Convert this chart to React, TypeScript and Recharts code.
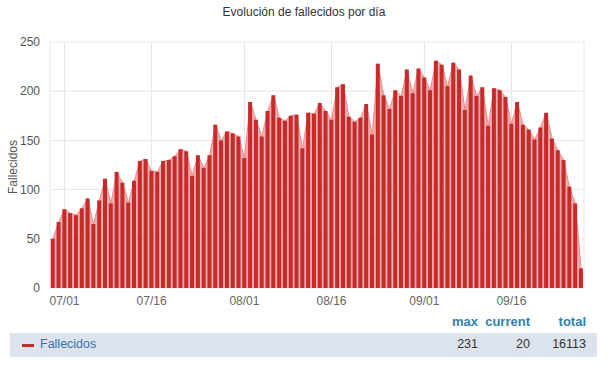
import { Area, Bar, CartesianGrid, ComposedChart, XAxis, YAxis } from 'recharts'

const DATES = [
  '06/29', '06/30',
  '07/01', '07/02', '07/03', '07/04', '07/05', '07/06', '07/07', '07/08', '07/09', '07/10',
  '07/11', '07/12', '07/13', '07/14', '07/15', '07/16', '07/17', '07/18', '07/19', '07/20',
  '07/21', '07/22', '07/23', '07/24', '07/25', '07/26', '07/27', '07/28', '07/29', '07/30', '07/31',
  '08/01', '08/02', '08/03', '08/04', '08/05', '08/06', '08/07', '08/08', '08/09', '08/10',
  '08/11', '08/12', '08/13', '08/14', '08/15', '08/16', '08/17', '08/18', '08/19', '08/20',
  '08/21', '08/22', '08/23', '08/24', '08/25', '08/26', '08/27', '08/28', '08/29', '08/30', '08/31',
  '09/01', '09/02', '09/03', '09/04', '09/05', '09/06', '09/07', '09/08', '09/09', '09/10',
  '09/11', '09/12', '09/13', '09/14', '09/15', '09/16', '09/17', '09/18', '09/19', '09/20',
  '09/21', '09/22', '09/23', '09/24', '09/25', '09/26', '09/27', '09/28',
]

const DEATHS = [
  50, 67,
  80, 76, 74, 81, 91, 65, 89, 111, 86, 118,
  107, 87, 109, 129, 131, 119, 118, 129, 130, 134,
  141, 139, 114, 135, 122, 135, 166, 150, 159, 157, 154,
  132, 189, 171, 154, 180, 196, 173, 170, 175, 176,
  142, 178, 177, 188, 180, 171, 204, 207, 174, 169,
  173, 187, 156, 228, 196, 182, 201, 195, 222, 198, 223,
  214, 201, 231, 227, 205, 229, 222, 181, 216, 195,
  204, 165, 203, 201, 194, 167, 189, 166, 161, 151,
  163, 178, 152, 140, 130, 103, 86, 20,
]

const X_TICKS = ['07/01', '07/16', '08/01', '08/16', '09/01', '09/16']
const Y_TICKS = [0, 50, 100, 150, 200, 250]

const SUMMARY = { max: 231, current: 20, total: 16113 }

const data = DATES.map((date, i) => ({ date, value: DEATHS[i] }))

const FONT = '"Liberation Sans", Arial, sans-serif'

export default function App() {
  return (
    <div style={{ position: 'absolute', left: 0, top: 0, width: 608, height: 366, background: '#fff', fontFamily: FONT }}>
      <div style={{ position: 'absolute', top: 5, left: 0, width: 608, textAlign: 'center', fontSize: 12, color: '#333' }}>
        Evolución de fallecidos por día
      </div>
      <div
        style={{
          position: 'absolute', left: 13, top: 167, transform: 'translate(-50%, -50%) rotate(-90deg)',
          fontSize: 12, color: '#555', whiteSpace: 'nowrap', lineHeight: '14px',
        }}
      >
        Fallecidos
      </div>
      <div style={{ position: 'absolute', left: 0, top: 0 }}>
        <ComposedChart
          width={608}
          height={310}
          data={data}
          margin={{ top: 42, right: 24, bottom: 2, left: 0 }}
          barCategoryGap="13%"
        >
          <CartesianGrid stroke="#e6e6e6" />
          <XAxis
            dataKey="date"
            ticks={X_TICKS}
            interval={0}
            tickLine={false}
            axisLine={false}
            height={20}
            tick={{ fontSize: 12, fill: '#666', fontFamily: FONT }}
            tickMargin={2}
          />
          <YAxis
            domain={[0, 250]}
            ticks={Y_TICKS}
            width={50}
            tickLine={false}
            axisLine={false}
            tick={{ fontSize: 12, fill: '#555', fontFamily: FONT }}
            tickMargin={4}
          />
          <Area
            type="linear"
            dataKey="value"
            fill="#dd6060"
            fillOpacity={0.5}
            stroke="#ee8a8a"
            strokeWidth={1}
            isAnimationActive={false}
          />
          <Bar dataKey="value" fill="#c62a2a" isAnimationActive={false} />
        </ComposedChart>
      </div>
      <div style={{ position: 'absolute', top: 314, left: 0, width: 608, fontSize: 13, fontWeight: 'bold', color: '#2f7fae' }}>
        <span style={{ position: 'absolute', right: 130 }}>max</span>
        <span style={{ position: 'absolute', right: 78 }}>current</span>
        <span style={{ position: 'absolute', right: 22 }}>total</span>
      </div>
      <div style={{ position: 'absolute', top: 333, left: 10, width: 587, height: 24, background: '#dde3ec', fontSize: 12.5 }}>
        <div style={{ position: 'absolute', left: 12, top: 11, width: 12, height: 3, background: '#c62a2a' }} />
        <span style={{ position: 'absolute', left: 30, top: 4, color: '#3b6fb0' }}>Fallecidos</span>
        <span style={{ position: 'absolute', right: 119, top: 4, color: '#333' }}>{SUMMARY.max}</span>
        <span style={{ position: 'absolute', right: 67, top: 4, color: '#333' }}>{SUMMARY.current}</span>
        <span style={{ position: 'absolute', right: 11, top: 4, color: '#333' }}>{SUMMARY.total}</span>
      </div>
    </div>
  )
}
